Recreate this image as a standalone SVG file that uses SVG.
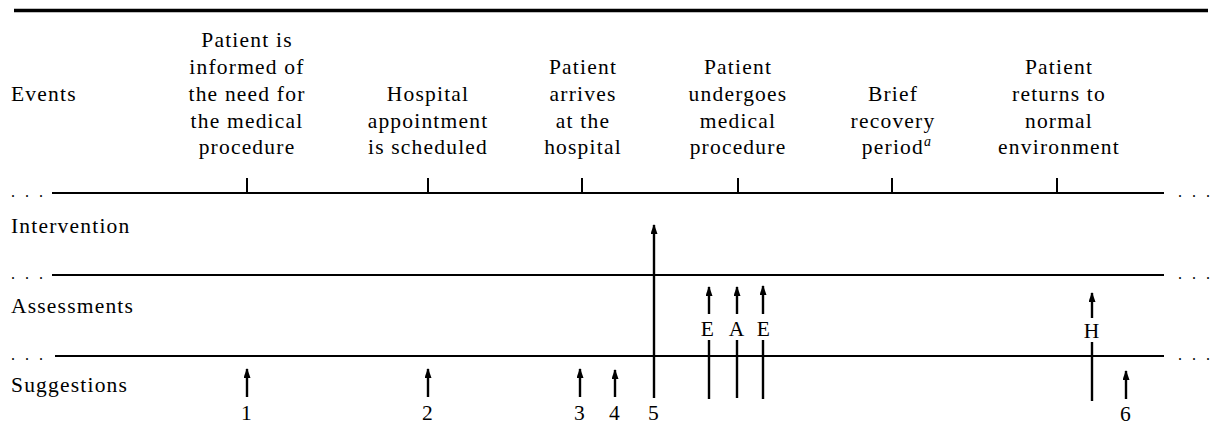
<svg xmlns="http://www.w3.org/2000/svg" width="1211" height="433" viewBox="0 0 1211 433">
  <defs>
    <marker id="head" viewBox="0 0 10 7" refX="9" refY="3.5" markerWidth="10" markerHeight="7" markerUnits="userSpaceOnUse" orient="auto">
      <path d="M0,0 L10,3.5 L0,7 Z" fill="#000"/>
    </marker>
    <style>
      text { font-family: "Liberation Serif", "Times New Roman", serif; font-size: 21.5px; letter-spacing: 1.2px; fill: #000; }
      .c { text-anchor: middle; }
      .rule { stroke: #000; stroke-width: 2; fill: none; }
      .tick { stroke: #000; stroke-width: 2; }
      .dots { letter-spacing: 3px; font-size: 16px; }
      .arr { stroke: #000; stroke-width: 2.4; fill: none; marker-end: url(#head); }
      .bar { stroke: #000; stroke-width: 2.4; fill: none; }
    </style>
  </defs>
  <rect width="1211" height="433" fill="#fff"/>

  <!-- heavy top rule -->
  <line x1="14" y1="10.5" x2="1208" y2="10.5" stroke="#000" stroke-width="3.5"/>

  <!-- row labels -->
  <g id="row-labels">
    <text x="11" y="101">Events</text>
    <text x="11" y="233">Intervention</text>
    <text x="11" y="313">Assessments</text>
    <text x="11" y="392">Suggestions</text>
  </g>

  <!-- timeline rows with continuation dots -->
  <g id="rows">
    <line class="rule" x1="52" y1="193" x2="1164" y2="193"/>
    <line class="rule" x1="52" y1="275" x2="1164" y2="275"/>
    <line class="rule" x1="55" y1="356" x2="1164" y2="356"/>
    <text class="dots" x="11" y="197">. . .</text>
    <text class="dots" x="11" y="279">. . .</text>
    <text class="dots" x="11" y="360">. . .</text>
    <text class="dots" x="1178" y="197">. . .</text>
    <text class="dots" x="1178" y="279">. . .</text>
    <text class="dots" x="1178" y="360">. . .</text>
  </g>

  <!-- events -->
  <g id="event-informed">
    <text class="c" x="247" y="47">Patient is</text>
    <text class="c" x="247" y="74">informed of</text>
    <text class="c" x="247" y="101">the need for</text>
    <text class="c" x="247" y="128">the medical</text>
    <text class="c" x="247" y="154">procedure</text>
    <line class="tick" x1="247" y1="178" x2="247" y2="193"/>
  </g>
  <g id="event-scheduled">
    <text class="c" x="428" y="101">Hospital</text>
    <text class="c" x="428" y="128">appointment</text>
    <text class="c" x="428" y="154">is scheduled</text>
    <line class="tick" x1="428" y1="178" x2="428" y2="193"/>
  </g>
  <g id="event-arrives">
    <text class="c" x="583" y="74">Patient</text>
    <text class="c" x="583" y="101">arrives</text>
    <text class="c" x="583" y="128">at the</text>
    <text class="c" x="583" y="154">hospital</text>
    <line class="tick" x1="582" y1="178" x2="582" y2="193"/>
  </g>
  <g id="event-procedure">
    <text class="c" x="738" y="74">Patient</text>
    <text class="c" x="738" y="101">undergoes</text>
    <text class="c" x="738" y="128">medical</text>
    <text class="c" x="738" y="154">procedure</text>
    <line class="tick" x1="738" y1="178" x2="738" y2="193"/>
  </g>
  <g id="event-recovery">
    <text class="c" x="893" y="101">Brief</text>
    <text class="c" x="893" y="128">recovery</text>
    <text class="c" x="897" y="154">period<tspan font-style="italic" font-size="14" dy="-8">a</tspan></text>
    <line class="tick" x1="892" y1="178" x2="892" y2="193"/>
  </g>
  <g id="event-returns">
    <text class="c" x="1059" y="74">Patient</text>
    <text class="c" x="1059" y="101">returns to</text>
    <text class="c" x="1059" y="128">normal</text>
    <text class="c" x="1059" y="154">environment</text>
    <line class="tick" x1="1057" y1="178" x2="1057" y2="193"/>
  </g>

  <!-- markers: suggestions, intervention, assessments -->
  <g id="connectors">
    <line class="arr" x1="247" y1="397" x2="247" y2="369"/>
    <line class="arr" x1="428" y1="397" x2="428" y2="369"/>
    <line class="arr" x1="580" y1="397" x2="580" y2="369"/>
    <line class="arr" x1="615" y1="397" x2="615" y2="370"/>
    <line class="arr" x1="1126" y1="399" x2="1126" y2="371"/>
    <line class="arr" x1="654" y1="398" x2="654" y2="225"/>
    <line class="arr" x1="709" y1="314" x2="709" y2="287"/>
    <line class="arr" x1="737" y1="314" x2="737" y2="287"/>
    <line class="arr" x1="763" y1="314" x2="763" y2="286"/>
    <line class="arr" x1="1092" y1="318" x2="1092" y2="293"/>
    <line class="bar" x1="709" y1="340" x2="709" y2="399"/>
    <line class="bar" x1="737" y1="340" x2="737" y2="398"/>
    <line class="bar" x1="763" y1="340" x2="763" y2="399"/>
    <line class="bar" x1="1092" y1="342" x2="1092" y2="401"/>
  </g>

  <g id="marker-labels">
    <text class="c" x="247" y="420">1</text>
    <text class="c" x="428" y="420">2</text>
    <text class="c" x="580" y="420">3</text>
    <text class="c" x="615" y="420">4</text>
    <text class="c" x="654" y="420">5</text>
    <text class="c" x="1126" y="421">6</text>
    <text class="c" x="708" y="336">E</text>
    <text class="c" x="737" y="336">A</text>
    <text class="c" x="764" y="336">E</text>
    <text class="c" x="1092" y="338">H</text>
  </g>
</svg>
